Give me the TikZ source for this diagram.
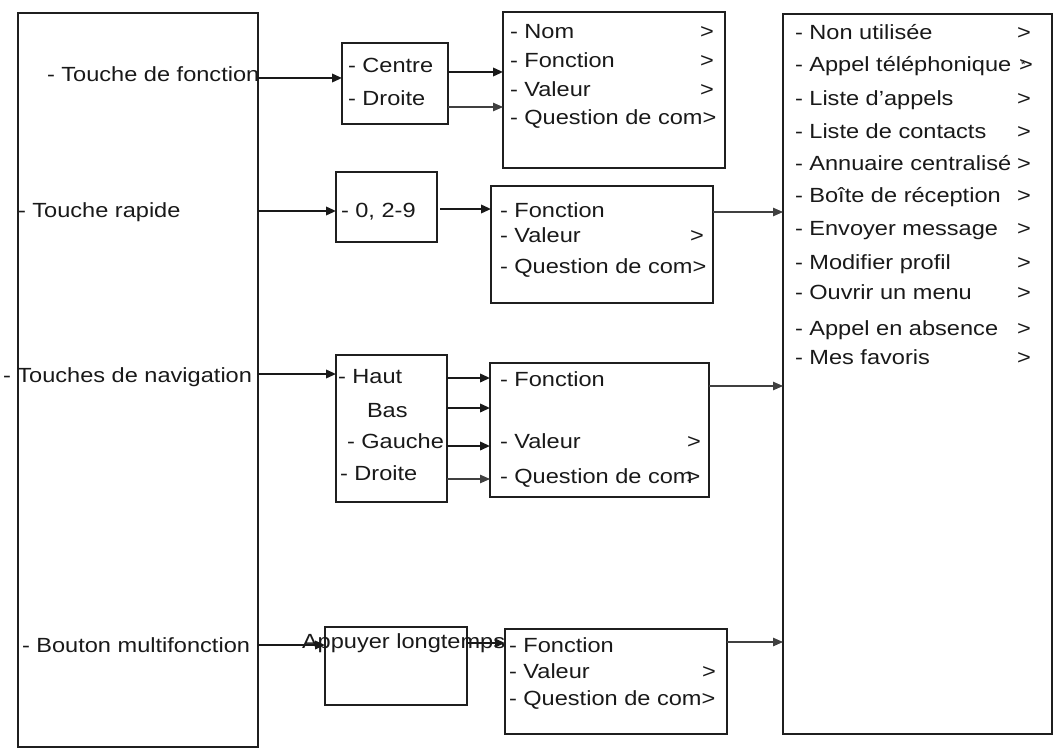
\documentclass[tikz,border=0pt]{standalone}
\usepackage{fontspec}
\setmainfont{Liberation Sans}[FakeStretch=1.15]
\usetikzlibrary{arrows.meta}
\begin{document}
\begin{tikzpicture}[x=1pt,y=-1pt,
  box/.style={draw=black!88, line width=2pt, inner sep=0pt, outer sep=0pt, rectangle},
  txt/.style={anchor=base west, inner sep=0pt, outer sep=0pt, font=\fontsize{20.5}{22}\selectfont, text=black!90},
  arr/.style={line width=2pt, draw=black!90, -{Triangle[length=10pt,width=8.5pt]}},
  thinarr/.style={line width=1.1pt, draw=black!75, -{Triangle[length=10pt,width=8.5pt]}}]
\useasboundingbox (0,0) rectangle (1059,754);
% boxes
\node[box, minimum width=240, minimum height=734] (L) at (138,380) {};
\node[box, minimum width=106, minimum height=81] (C) at (395,83.5) {};
\node[box, minimum width=222, minimum height=156] (N) at (614,90) {};
\node[box, minimum width=101, minimum height=70] (K) at (386.5,207) {};
\node[box, minimum width=222, minimum height=117] (F2) at (602,244.5) {};
\node[box, minimum width=269, minimum height=720] (R) at (917.5,374) {};
\node[box, minimum width=111, minimum height=147] (V) at (391.5,428.5) {};
\node[box, minimum width=219, minimum height=134] (F3) at (599.5,430) {};
\node[box, minimum width=142, minimum height=78] (A) at (396,666) {};
\node[box, minimum width=222, minimum height=105] (F4) at (616,681.5) {};
% left box texts
\node[txt] (tf) at (47,82) {- Touche de fonction};
\node[txt] (tr) at (18,217) {- Touche rapide};
\node[txt] (tn) at (3,382) {- Touches de navigation};
\node[txt] (bm) at (22,652) {- Bouton multifonction};
% centre box
\node[txt] (c1) at (348,73) {- Centre};
\node[txt] (c2) at (348,106) {- Droite};
% nom box
\node[txt] (n1) at (510,39) {- Nom};
\node[txt] (n1g) at (700,39) {>};
\node[txt] (n2) at (510,68) {- Fonction};
\node[txt] (n2g) at (700,68) {>};
\node[txt] (n3) at (510,97) {- Valeur};
\node[txt] (n3g) at (700,97) {>};
\node[txt] (n4) at (510,125) {- Question de com>};
% 0,2-9 box
\node[txt] (k1) at (341,217) {- 0, 2-9};
% F2
\node[txt] (f21) at (500,217) {- Fonction};
\node[txt] (f22) at (500,242) {- Valeur};
\node[txt] (f22g) at (690,242) {>};
\node[txt] (f23) at (500,273) {- Question de com>};
% nav box
\node[txt] (v1) at (338,383) {- Haut};
\node[txt] (v2) at (367,417) {Bas};
\node[txt] (v3) at (347,448) {- Gauche};
\node[txt] (v4) at (340,480) {- Droite};
% F3
\node[txt] (f31) at (500,386) {- Fonction};
\node[txt] (f32) at (500,448) {- Valeur};
\node[txt] (f32g) at (687,448) {>};
\node[txt] (f33) at (500,483) {- Question de com\hspace{-6pt}>};
% Appuyer
\node[txt] (a1) at (302,648) {Appuyer longtemps};
% F4
\node[txt] (f41) at (509,652) {- Fonction};
\node[txt] (f42) at (509,678) {- Valeur};
\node[txt] (f42g) at (702,678) {>};
\node[txt] (f43) at (509,705) {- Question de com>};
% right box
\foreach \t/\yy [count=\i] in {Non utilisée/40, Appel téléphonique/72, Liste d'appels/106, Liste de contacts/139, Annuaire centralisé/171, Boîte de réception/202, Envoyer message/235, Modifier profil/269, Ouvrir un menu/299, Appel en absence/335, Mes favoris/364}{
  \node[txt] (r\i) at (795,\yy) {- \t};
}
\foreach \yy [count=\i] in {40,106,139,171,202,235,269,299,335,364}{
  \node[txt] (g\i) at (1017,\yy) {>};
}
\node[txt] (g0) at (1019,72) {\rlap{\raisebox{3pt}{\fontsize{11}{11}\selectfont\,*}}>};
% arrow rows
\coordinate (y1) at (0,78);
\coordinate (y2) at (0,211);
\coordinate (y3) at (0,374);
\coordinate (y4) at (0,645);
\coordinate (yc1) at (0,72);
\coordinate (yc2) at (0,107);
\coordinate (yk) at (0,209);
\coordinate (yf2) at (0,212);
\coordinate (yv1) at (0,378);
\coordinate (yv2) at (0,408);
\coordinate (yv3) at (0,446);
\coordinate (yv4) at (0,479);
\coordinate (yf3) at (0,386);
\coordinate (ya) at (0,643);
\coordinate (yf4) at (0,642);
\draw[arr] (L.east |- y1) -- (C.west |- y1);
\draw[arr] (L.east |- y2) -- (K.west |- y2);
\draw[arr] (L.east |- y3) -- (V.west |- y3);
\draw[arr] (L.east |- y4) -- (A.west |- y4);
\draw[arr] (C.east |- yc1) -- (N.west |- yc1);
\draw[thinarr] (C.east |- yc2) -- (N.west |- yc2);
\draw[arr, shorten <=3pt] (K.east |- yk) -- (F2.west |- yk);
\draw[thinarr] (F2.east |- yf2) -- (R.west |- yf2);
\draw[arr] (V.east |- yv1) -- (F3.west |- yv1);
\draw[arr] (V.east |- yv2) -- (F3.west |- yv2);
\draw[arr] (V.east |- yv3) -- (F3.west |- yv3);
\draw[thinarr] (V.east |- yv4) -- (F3.west |- yv4);
\draw[thinarr] (F3.east |- yf3) -- (R.west |- yf3);
\draw[arr] (A.east |- ya) -- (F4.west |- ya);
\draw[thinarr] (F4.east |- yf4) -- (R.west |- yf4);
\end{tikzpicture}
\end{document}
